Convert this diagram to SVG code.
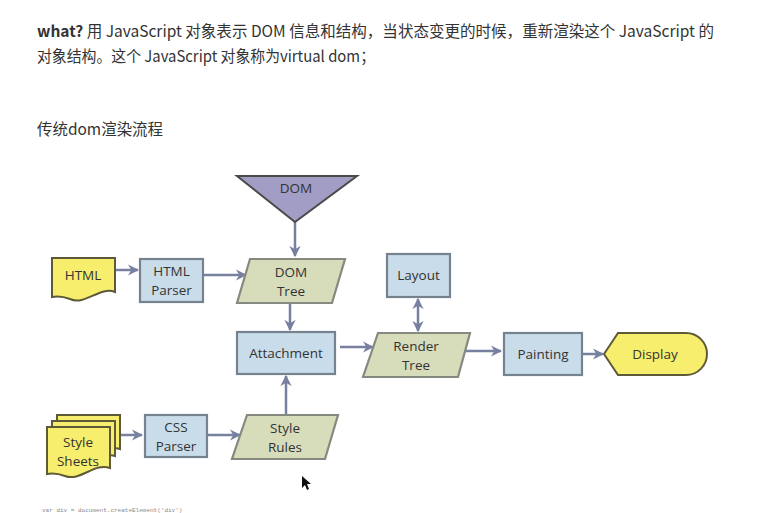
<svg xmlns="http://www.w3.org/2000/svg" width="779" height="513" viewBox="0 0 779 513">
<style>
.hd{font-family:"Noto Sans CJK SC","Noto Sans",sans-serif;font-size:15.5px;fill:#333}
.lb{font-family:"Open Sans","Liberation Sans",sans-serif;font-size:13.5px;fill:#333;text-anchor:middle}
.box{fill:#c9dce9;stroke:#76838f;stroke-width:2.2}
.par{fill:#d7dcbb;stroke:#858a80;stroke-width:2.2}
.yel{fill:#f7ee6e;stroke:#5e5a38;stroke-width:2}
.con{stroke:#7880a0;stroke-width:2.5;fill:none}
</style>
<defs>
<marker id="ah" viewBox="0 0 10 10" refX="9" refY="5" markerWidth="4.5" markerHeight="4.5" orient="auto-start-reverse">
<path d="M0,0 L10,5 L0,10 L3,5 Z" fill="#7880a0"/>
</marker>
</defs>
<rect width="779" height="513" fill="#fff"/>
<g id="header">
<text class="hd" x="37" y="37" textLength="677" lengthAdjust="spacingAndGlyphs"><tspan font-weight="bold">what?</tspan> 用 JavaScript 对象表示 DOM 信息和结构，当状态变更的时候，重新渲染这个 JavaScript 的</text>
<text class="hd" x="37" y="62" textLength="338" lengthAdjust="spacingAndGlyphs">对象结构。这个 JavaScript 对象称为virtual dom；</text>
<text class="hd" x="37" y="135" textLength="126" lengthAdjust="spacingAndGlyphs">传统dom渲染流程</text>
</g>
<g id="connectors">
<line class="con" x1="295" y1="222" x2="295" y2="256" marker-end="url(#ah)"/>
<line class="con" x1="116" y1="270" x2="138" y2="270" marker-end="url(#ah)"/>
<line class="con" x1="204" y1="275" x2="246" y2="275" marker-end="url(#ah)"/>
<line class="con" x1="290" y1="304" x2="290" y2="330" marker-end="url(#ah)"/>
<line class="con" x1="286" y1="415" x2="286" y2="376" marker-end="url(#ah)"/>
<line class="con" x1="340" y1="347" x2="373" y2="347" marker-end="url(#ah)"/>
<line class="con" x1="418" y1="299" x2="418" y2="331" marker-start="url(#ah)" marker-end="url(#ah)"/>
<line class="con" x1="465" y1="351" x2="501" y2="351" marker-end="url(#ah)"/>
<line class="con" x1="583" y1="354" x2="603" y2="354" marker-end="url(#ah)"/>
<line class="con" x1="121" y1="435" x2="142" y2="435" marker-end="url(#ah)"/>
<line class="con" x1="208" y1="435" x2="240" y2="435" marker-end="url(#ah)"/>
</g>
<g id="dom">
<polygon points="237,176 357,176 295,222" fill="#a19dc4" stroke="#4a4a4a" stroke-width="2"/>
<text class="lb" x="296" y="193">DOM</text>
</g>
<g id="html">
<path class="yel" d="M52,258 H115 V292 C100,286 85,306 70,299 C62,296 57,296 52,297 Z"/>
<text class="lb" x="83" y="280">HTML</text>
</g>
<g id="html-parser">
<rect class="box" x="140" y="259" width="63" height="43"/>
<text class="lb" x="171.5" y="276">HTML</text>
<text class="lb" x="171.5" y="295">Parser</text>
</g>
<g id="dom-tree">
<polygon class="par" points="250,259 345,259 332,303 237,303"/>
<text class="lb" x="291" y="277">DOM</text>
<text class="lb" x="291" y="296">Tree</text>
</g>
<g id="attachment">
<rect class="box" x="237" y="332" width="98" height="42"/>
<text class="lb" x="286" y="358">Attachment</text>
</g>
<g id="layout">
<rect class="box" x="387" y="254" width="63" height="43"/>
<text class="lb" x="418.5" y="280">Layout</text>
</g>
<g id="render-tree">
<polygon class="par" points="378,333 470,333 458,377 363,377"/>
<text class="lb" x="416" y="351">Render</text>
<text class="lb" x="416" y="370">Tree</text>
</g>
<g id="painting">
<rect class="box" x="504" y="333" width="78" height="42"/>
<text class="lb" x="543" y="359">Painting</text>
</g>
<g id="display">
<path class="yel" d="M604,354 L618,333 H686 A21,21 0 0 1 686,375 H618 Z"/>
<text class="lb" x="655" y="359">Display</text>
</g>
<g id="style-sheets">
<path class="yel" d="M57,415 H120 V449 C108,445 98,460 85,457 L57,457 Z"/>
<path class="yel" d="M52,421 H115 V456 C103,452 93,467 80,463 L52,463 Z"/>
<path class="yel" d="M47,427 H110 V468 C95,462 80,482 65,476 C57,473 52,473 47,474 Z"/>
<text class="lb" x="78" y="447">Style</text>
<text class="lb" x="78" y="466">Sheets</text>
</g>
<g id="css-parser">
<rect class="box" x="145" y="415" width="62" height="42"/>
<text class="lb" x="176" y="432">CSS</text>
<text class="lb" x="176" y="451">Parser</text>
</g>
<g id="style-rules">
<polygon class="par" points="247,415 338,415 325,459 232,459"/>
<text class="lb" x="285" y="433">Style</text>
<text class="lb" x="285" y="452">Rules</text>
</g>
<path d="M302,476 L302,488 L305,485 L307,490 L309,489 L307,484 L311,484 Z" fill="#111"/>
<text x="42" y="512" font-family="Liberation Mono,monospace" font-size="6" fill="#888">var div = document.createElement('div')</text>
</svg>
